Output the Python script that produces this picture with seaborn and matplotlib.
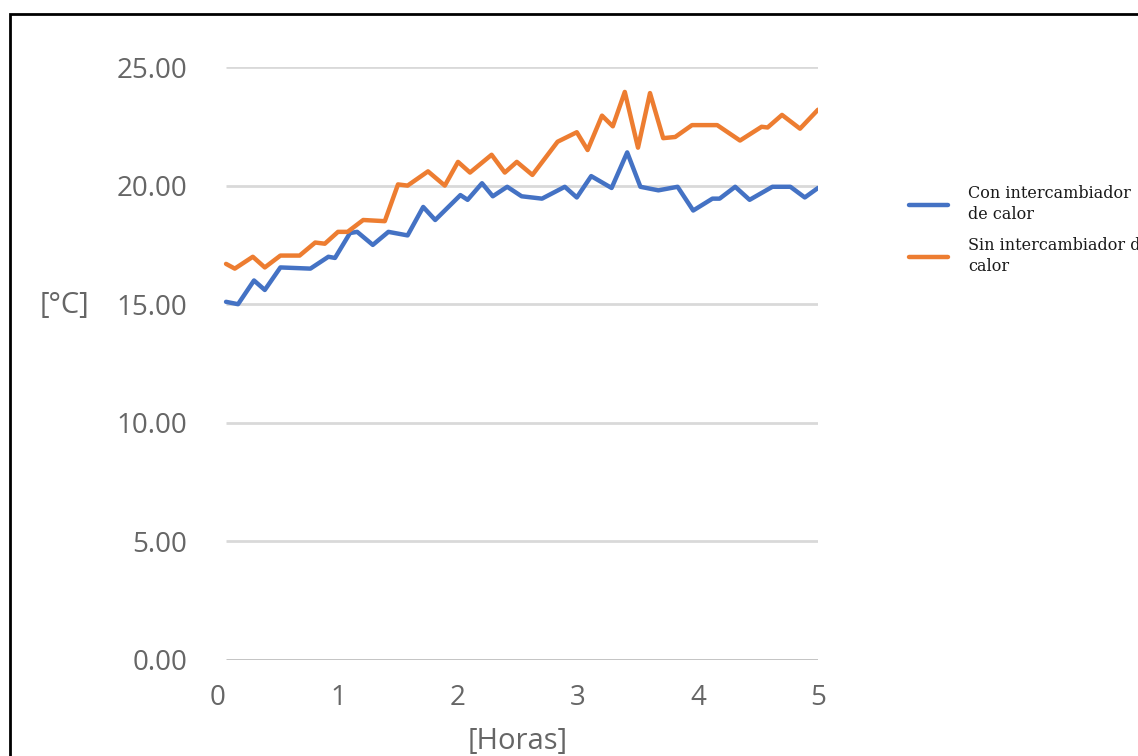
import numpy as np
import pandas as pd
import matplotlib
matplotlib.use("Agg")
import matplotlib.pyplot as plt
import seaborn as sns
from matplotlib.patches import Rectangle
from matplotlib.lines import Line2D

# Temperature readings [°C] against elapsed time [hours]
horas_con = [0.067, 0.167, 0.30, 0.39, 0.52, 0.77, 0.92, 0.975, 1.10, 1.16,
             1.29, 1.42, 1.58, 1.71, 1.81, 2.02, 2.08, 2.20, 2.29, 2.41,
             2.53, 2.70, 2.89, 2.99, 3.11, 3.28, 3.41, 3.52, 3.67, 3.83,
             3.96, 4.12, 4.18, 4.31, 4.43, 4.62, 4.77, 4.89, 5.00]
temp_con = [15.1, 15.0, 16.0, 15.6, 16.55, 16.5, 17.0, 16.95, 18.0, 18.05,
            17.5, 18.05, 17.9, 19.1, 18.55, 19.6, 19.4, 20.1, 19.55, 19.95,
            19.55, 19.45, 19.95, 19.5, 20.4, 19.9, 21.4, 19.95, 19.8, 19.95,
            18.95, 19.45, 19.45, 19.95, 19.4, 19.95, 19.95, 19.5, 19.9]

horas_sin = [0.067, 0.14, 0.29, 0.39, 0.52, 0.68, 0.81, 0.89, 1.00, 1.08,
             1.21, 1.39, 1.50, 1.58, 1.75, 1.89, 2.00, 2.10, 2.28, 2.39,
             2.49, 2.62, 2.83, 2.99, 3.08, 3.20, 3.29, 3.39, 3.50, 3.60,
             3.71, 3.81, 3.95, 4.16, 4.35, 4.53, 4.58, 4.70, 4.85, 5.00]
temp_sin = [16.7, 16.5, 17.0, 16.55, 17.05, 17.05, 17.6, 17.55, 18.05, 18.05,
            18.55, 18.5, 20.05, 20.0, 20.6, 20.0, 21.0, 20.55, 21.3, 20.55,
            21.0, 20.45, 21.85, 22.25, 21.5, 22.95, 22.5, 23.95, 21.6, 23.9,
            22.0, 22.05, 22.55, 22.55, 21.9, 22.48, 22.45, 22.98, 22.4, 23.2]

series = ["Con intercambiador\nde calor", "Sin intercambiador de\ncalor"]
x_ticks = [0, 1, 2, 3, 4, 5]
y_ticks = [0, 5, 10, 15, 20, 25]

df = pd.concat([
    pd.DataFrame({"Horas": horas_con, "Temp": temp_con, "Serie": series[0]}),
    pd.DataFrame({"Horas": horas_sin, "Temp": temp_sin, "Serie": series[1]}),
], ignore_index=True)

sns.set_theme(style="white")
plt.rcParams["font.family"] = ["Open Sans", "DejaVu Sans"]

fig = plt.figure(figsize=(11.38, 7.56), dpi=100)
ax = fig.add_axes([218 / 1138, 1 - 660 / 756, 600 / 1138, 593 / 756])

grey_text = "#666666"
blue, orange = "#4472C4", "#ED7D31"

# horizontal gridlines
ax.hlines(y_ticks[1:], 0.067, 5, color="#d9d9d9", lw=2, zorder=0)
ax.hlines([0], 0.067, 5, color="#bfbfbf", lw=2, zorder=0)

sns.lineplot(data=df, x="Horas", y="Temp", hue="Serie", sort=False,
             estimator=None, palette=[blue, orange], lw=3.2,
             ax=ax, legend=False, solid_joinstyle="round",
             solid_capstyle="round")

ax.set_xlim(0, 5)
ax.set_ylim(0, 25)
ax.set_xticks(x_ticks)
ax.set_yticks(y_ticks)
ax.set_xticklabels([str(t) for t in x_ticks])
ax.set_yticklabels([f"{t:.2f}" for t in y_ticks])
ax.tick_params(axis="both", length=0, labelsize=20, colors=grey_text)
ax.tick_params(axis="y", pad=22)
ax.tick_params(axis="x", pad=17)
for s in ax.spines.values():
    s.set_visible(False)

ax.set_xlabel("[Horas]", fontsize=21, color=grey_text, labelpad=11)
ax.set_ylabel("")
fig.text(65 / 1138, 1 - 306 / 756, "[°C]", fontsize=21, color=grey_text,
         ha="center", va="center")

# legend
handles = [Line2D([], [], color=blue, lw=3.2),
           Line2D([], [], color=orange, lw=3.2)]
leg = fig.legend(handles, series, loc="upper left",
                 bbox_to_anchor=(895 / 1138, 1 - 171 / 756), frameon=False,
                 handlelength=2.4, handletextpad=1.3, labelspacing=0.85,
                 prop={"family": "DejaVu Serif", "size": 11.5})
for t in leg.get_texts():
    t.set_linespacing(1.3)
    t.set_color("#1a1a1a")

# outer frame
fig.add_artist(Rectangle((10 / 1138, -0.05), 1.2, 1 - 14 / 756 + 0.05,
                         transform=fig.transFigure, fill=False,
                         edgecolor="black", lw=2, clip_on=False))

fig.savefig("out.png", dpi=100)
